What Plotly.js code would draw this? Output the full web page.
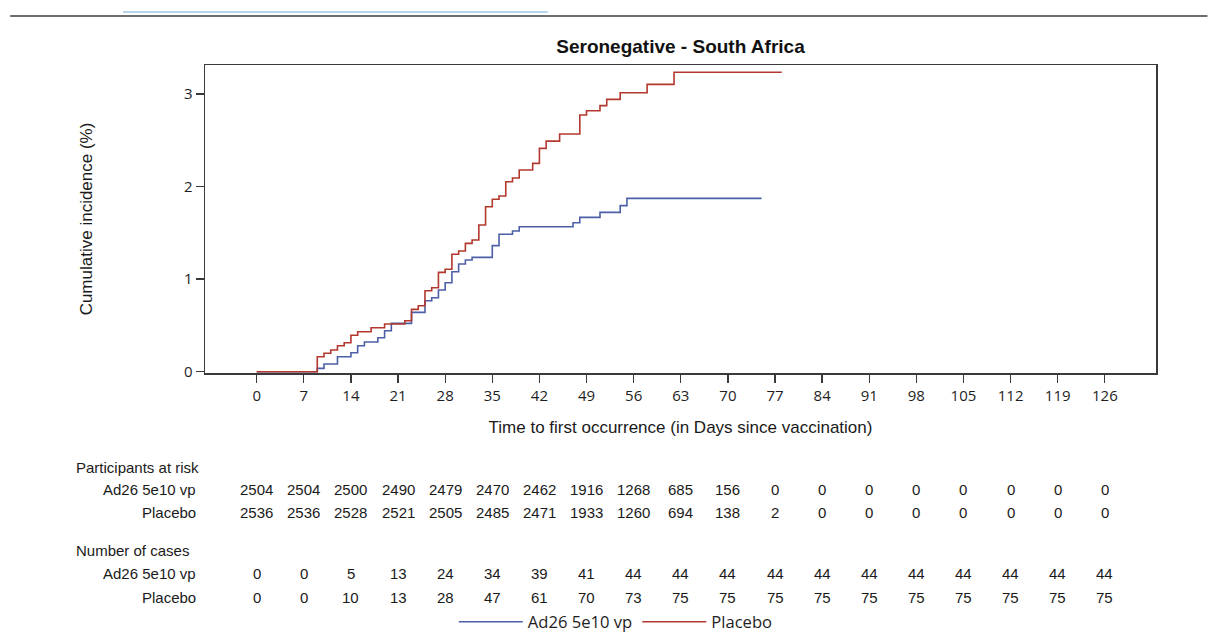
<!DOCTYPE html>
<html>
<head>
<meta charset="utf-8">
<script src="https://cdn.plot.ly/plotly-3.0.1.min.js"></script>
<style>html,body{margin:0;padding:0;background:#fff;}#chart{width:1208px;height:635px;}</style>
</head>
<body>
<div id="chart"></div>
<script>
// ---- Data ----
var tickDays = [0,7,14,21,28,35,42,49,56,63,70,77,84,91,98,105,112,119,126];

var ad26Days = [0,9,10,12,14,15,16,18,19,20,23,25,26,27,28,29,30,31,32,35,36,38,39,47,48,51,54,55,75];
var ad26Inc  = [0,0.036,0.083,0.162,0.205,0.281,0.321,0.367,0.443,0.522,0.641,0.767,0.799,0.882,0.961,1.08,1.163,1.206,1.235,1.361,1.484,1.519,1.566,1.609,1.667,1.721,1.793,1.872,1.872];

var placeboDays = [0,9,10,11,12,13,14,15,17,19,22,23,24,25,26,27,28,29,30,31,32,33,34,35,36,37,38,39,41,42,43,45,48,49,51,52,54,58,62,78];
var placeboInc  = [0,0.162,0.199,0.234,0.281,0.313,0.393,0.432,0.475,0.515,0.551,0.673,0.713,0.875,0.907,1.073,1.106,1.268,1.303,1.386,1.422,1.584,1.782,1.862,1.897,2.052,2.092,2.178,2.25,2.412,2.49,2.567,2.772,2.818,2.873,2.941,3.013,3.103,3.233,3.233];

var atRiskAd26    = [2504,2504,2500,2490,2479,2470,2462,1916,1268,685,156,0,0,0,0,0,0,0,0];
var atRiskPlacebo = [2536,2536,2528,2521,2505,2485,2471,1933,1260,694,138,2,0,0,0,0,0,0,0];
var casesAd26     = [0,0,5,13,24,34,39,41,44,44,44,44,44,44,44,44,44,44,44];
var casesPlacebo  = [0,0,10,13,28,47,61,70,73,75,75,75,75,75,75,75,75,75,75];

var groupNames = ['Ad26 5e10 vp','Placebo'];
var sectionNames = ['Participants at risk','Number of cases'];

// ---- Layout helpers ----
var W = 1208, H = 635;
var L = 205, R = 1156.5, T = 65, B = 373;
var pw = R - L, ph = B - T;
function px2x(p){ return (p - L) / pw; }
function px2y(p){ return (B - p) / ph; }

var blue = '#4d5fa6', red = '#b3382e';
var axisColor = '#3a3a3a';
var tableFont = {family:'Liberation Sans, Arial, sans-serif', size:15, color:'#1a1a1a'};

var traces = [
  {x: ad26Days, y: ad26Inc, type:'scatter', mode:'lines', name: groupNames[0],
   line:{shape:'hv', color: blue, width:1.6}, hoverinfo:'x+y'},
  {x: placeboDays, y: placeboInc, type:'scatter', mode:'lines', name: groupNames[1],
   line:{shape:'hv', color: red, width:1.6}, hoverinfo:'x+y'}
];

var annotations = [];
function addLabel(text, xp, yp, anchor){
  annotations.push({text:text, xref:'paper', yref:'paper', x:px2x(xp), y:px2y(yp),
    xanchor:anchor, yanchor:'middle', showarrow:false, font:tableFont});
}
function addRow(vals, yp){
  for (var i = 0; i < tickDays.length; i++){
    annotations.push({text:String(vals[i]), xref:'x', yref:'paper', x:tickDays[i], y:px2y(yp),
      xanchor:'center', yanchor:'middle', showarrow:false, font:tableFont});
  }
}
addLabel(sectionNames[0], 74, 467, 'left');
addLabel(groupNames[0], 198, 489, 'right');
addLabel(groupNames[1], 198, 512, 'right');
addRow(atRiskAd26, 489);
addRow(atRiskPlacebo, 512);
addLabel(sectionNames[1], 74, 550, 'left');
addLabel(groupNames[0], 198, 573, 'right');
addLabel(groupNames[1], 198, 597, 'right');
addRow(casesAd26, 573);
addRow(casesPlacebo, 597);

var shapes = [
  {type:'line', xref:'paper', yref:'paper', x0:px2x(123), x1:px2x(548), y0:px2y(12), y1:px2y(12),
   line:{color:'#9cc7e6', width:1.5}},
  {type:'line', xref:'paper', yref:'paper', x0:px2x(10), x1:px2x(1208), y0:px2y(16), y1:px2y(16),
   line:{color:'#6e6e6e', width:2}}
];

var tickFont = {family:'Open Sans, sans-serif', size:15, color:'#1e1e1e'};
var titleFont = {family:'Liberation Sans, Arial, sans-serif', size:17, color:'#1a1a1a'};

var layout = {
  width: W, height: H,
  margin: {l:L, r:W-R, t:T, b:H-B, pad:0, autoexpand:false},
  paper_bgcolor:'#fff', plot_bgcolor:'#fff',
  title: {text:'<b>Seronegative - South Africa</b>', xref:'paper', x:0.5, xanchor:'center',
          yref:'container', y:1-46/H, yanchor:'middle',
          font:{family:'Liberation Sans, Arial, sans-serif', size:19, color:'#111'}},
  xaxis: {range:[-7.68, 133.6], tickmode:'array', tickvals: tickDays, ticktext: tickDays.map(String),
          ticks:'outside', ticklen:8, tickwidth:1.3, tickcolor:axisColor,
          showline:true, mirror:true, linecolor:axisColor, linewidth:1.5,
          showgrid:false, zeroline:false, tickfont:tickFont, automargin:false,
          title:{text:'Time to first occurrence (in Days since vaccination)', font:titleFont, standoff:17}},
  yaxis: {range:[-0.014, 3.312], tickmode:'array', tickvals:[0,1,2,3],
          ticks:'outside', ticklen:8, tickwidth:1.3, tickcolor:axisColor,
          showline:true, mirror:true, linecolor:axisColor, linewidth:1.5,
          showgrid:false, zeroline:false, tickfont:tickFont, automargin:false,
          title:{text:'Cumulative incidence (%)', font:titleFont, standoff:87}},
  showlegend: true,
  legend: {orientation:'h', x:px2x(616), xanchor:'center', y:px2y(622), yanchor:'middle',
           font:{family:'Open Sans, sans-serif', size:16.6, color:'#1e1e1e'},
           itemwidth:64, bgcolor:'rgba(0,0,0,0)', traceorder:'normal'},
  annotations: annotations,
  shapes: shapes
};

Plotly.newPlot('chart', traces, layout, {displayModeBar:false, staticPlot:true});
</script>
</body>
</html>
